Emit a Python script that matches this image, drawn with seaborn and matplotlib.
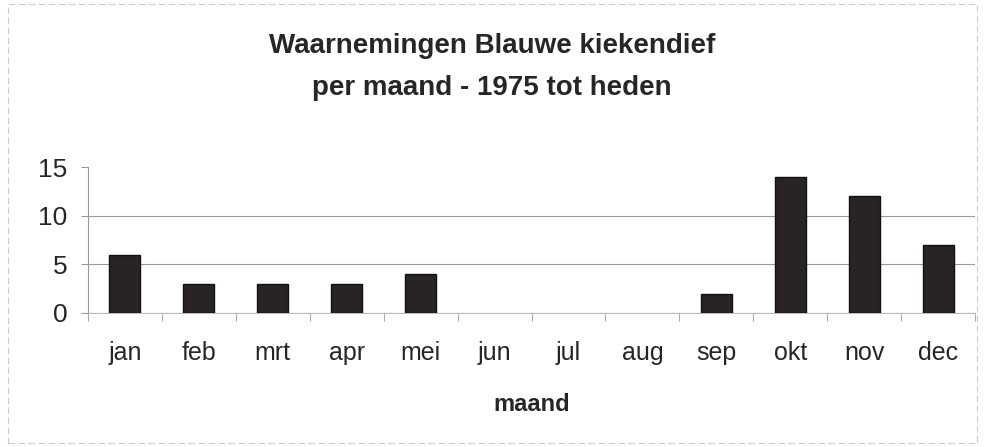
import numpy as np
import pandas as pd
import matplotlib.pyplot as plt
import seaborn as sns

maanden = ['jan', 'feb', 'mrt', 'apr', 'mei', 'jun', 'jul', 'aug', 'sep', 'okt', 'nov', 'dec']
waarnemingen = [6, 3, 3, 3, 4, 0, 0, 0, 2, 14, 12, 7]

df = pd.DataFrame({'maand': maanden, 'aantal': waarnemingen})

sns.set_style('white')
plt.rcParams['font.family'] = ['Liberation Sans', 'DejaVu Sans']

fig = plt.figure(figsize=(9.84, 4.47), dpi=100)
ax = fig.add_axes([88 / 984, 1 - 313 / 447, (975 - 88) / 984, (313 - 167) / 447])

sns.barplot(data=df, x='maand', y='aantal', color='#2a2226', width=0.42,
            edgecolor='#111111', linewidth=1, ax=ax, zorder=3)
# no outline for empty months
for p in ax.patches:
    if p.get_height() == 0:
        p.set_visible(False)

ax.set_ylim(0, 15)
ax.set_xlim(-0.5, len(maanden) - 0.5)
ax.set_yticks([0, 5, 10, 15])
ax.yaxis.grid(True, color='#999999', linewidth=0.8, zorder=0)
ax.get_ygridlines()[-1].set_visible(False)
ax.set_axisbelow(True)

for s in ['top', 'right']:
    ax.spines[s].set_visible(False)
ax.spines['left'].set_color('#999999')
ax.spines['bottom'].set_color('#bbbbbb')
ax.spines['left'].set_linewidth(0.8)
ax.spines['bottom'].set_linewidth(0.8)

# category ticks between bars
ax.set_xticks(np.arange(len(maanden)))
ax.set_xticklabels(maanden)
ax.set_xticks(np.arange(-0.5, len(maanden)), minor=True)
ax.tick_params(axis='x', which='major', length=0, labelsize=18, pad=20)
ax.tick_params(axis='x', which='minor', length=6, color='#999999', direction='out')
ax.tick_params(axis='y', length=5, color='#999999', direction='out', labelsize=19, pad=10)
ax.tick_params(left=True, bottom=True, which='both')

ax.set_xlabel('maand', fontsize=17, fontweight='bold', labelpad=20)
ax.set_ylabel('')

fig.text(0.5, 0.85, 'Waarnemingen Blauwe kiekendief\nper maand - 1975 tot heden',
         ha='center', va='center', fontsize=20, fontweight='bold', linespacing=1.8)

# light frame of the chart area
fig.patches.append(plt.Rectangle((0.008, 0.01), 0.985, 0.98, transform=fig.transFigure,
                                 fill=False, edgecolor='#cccccc', linewidth=0.8,
                                 linestyle=(0, (6, 3))))

fig.savefig('out.png', dpi=100)
